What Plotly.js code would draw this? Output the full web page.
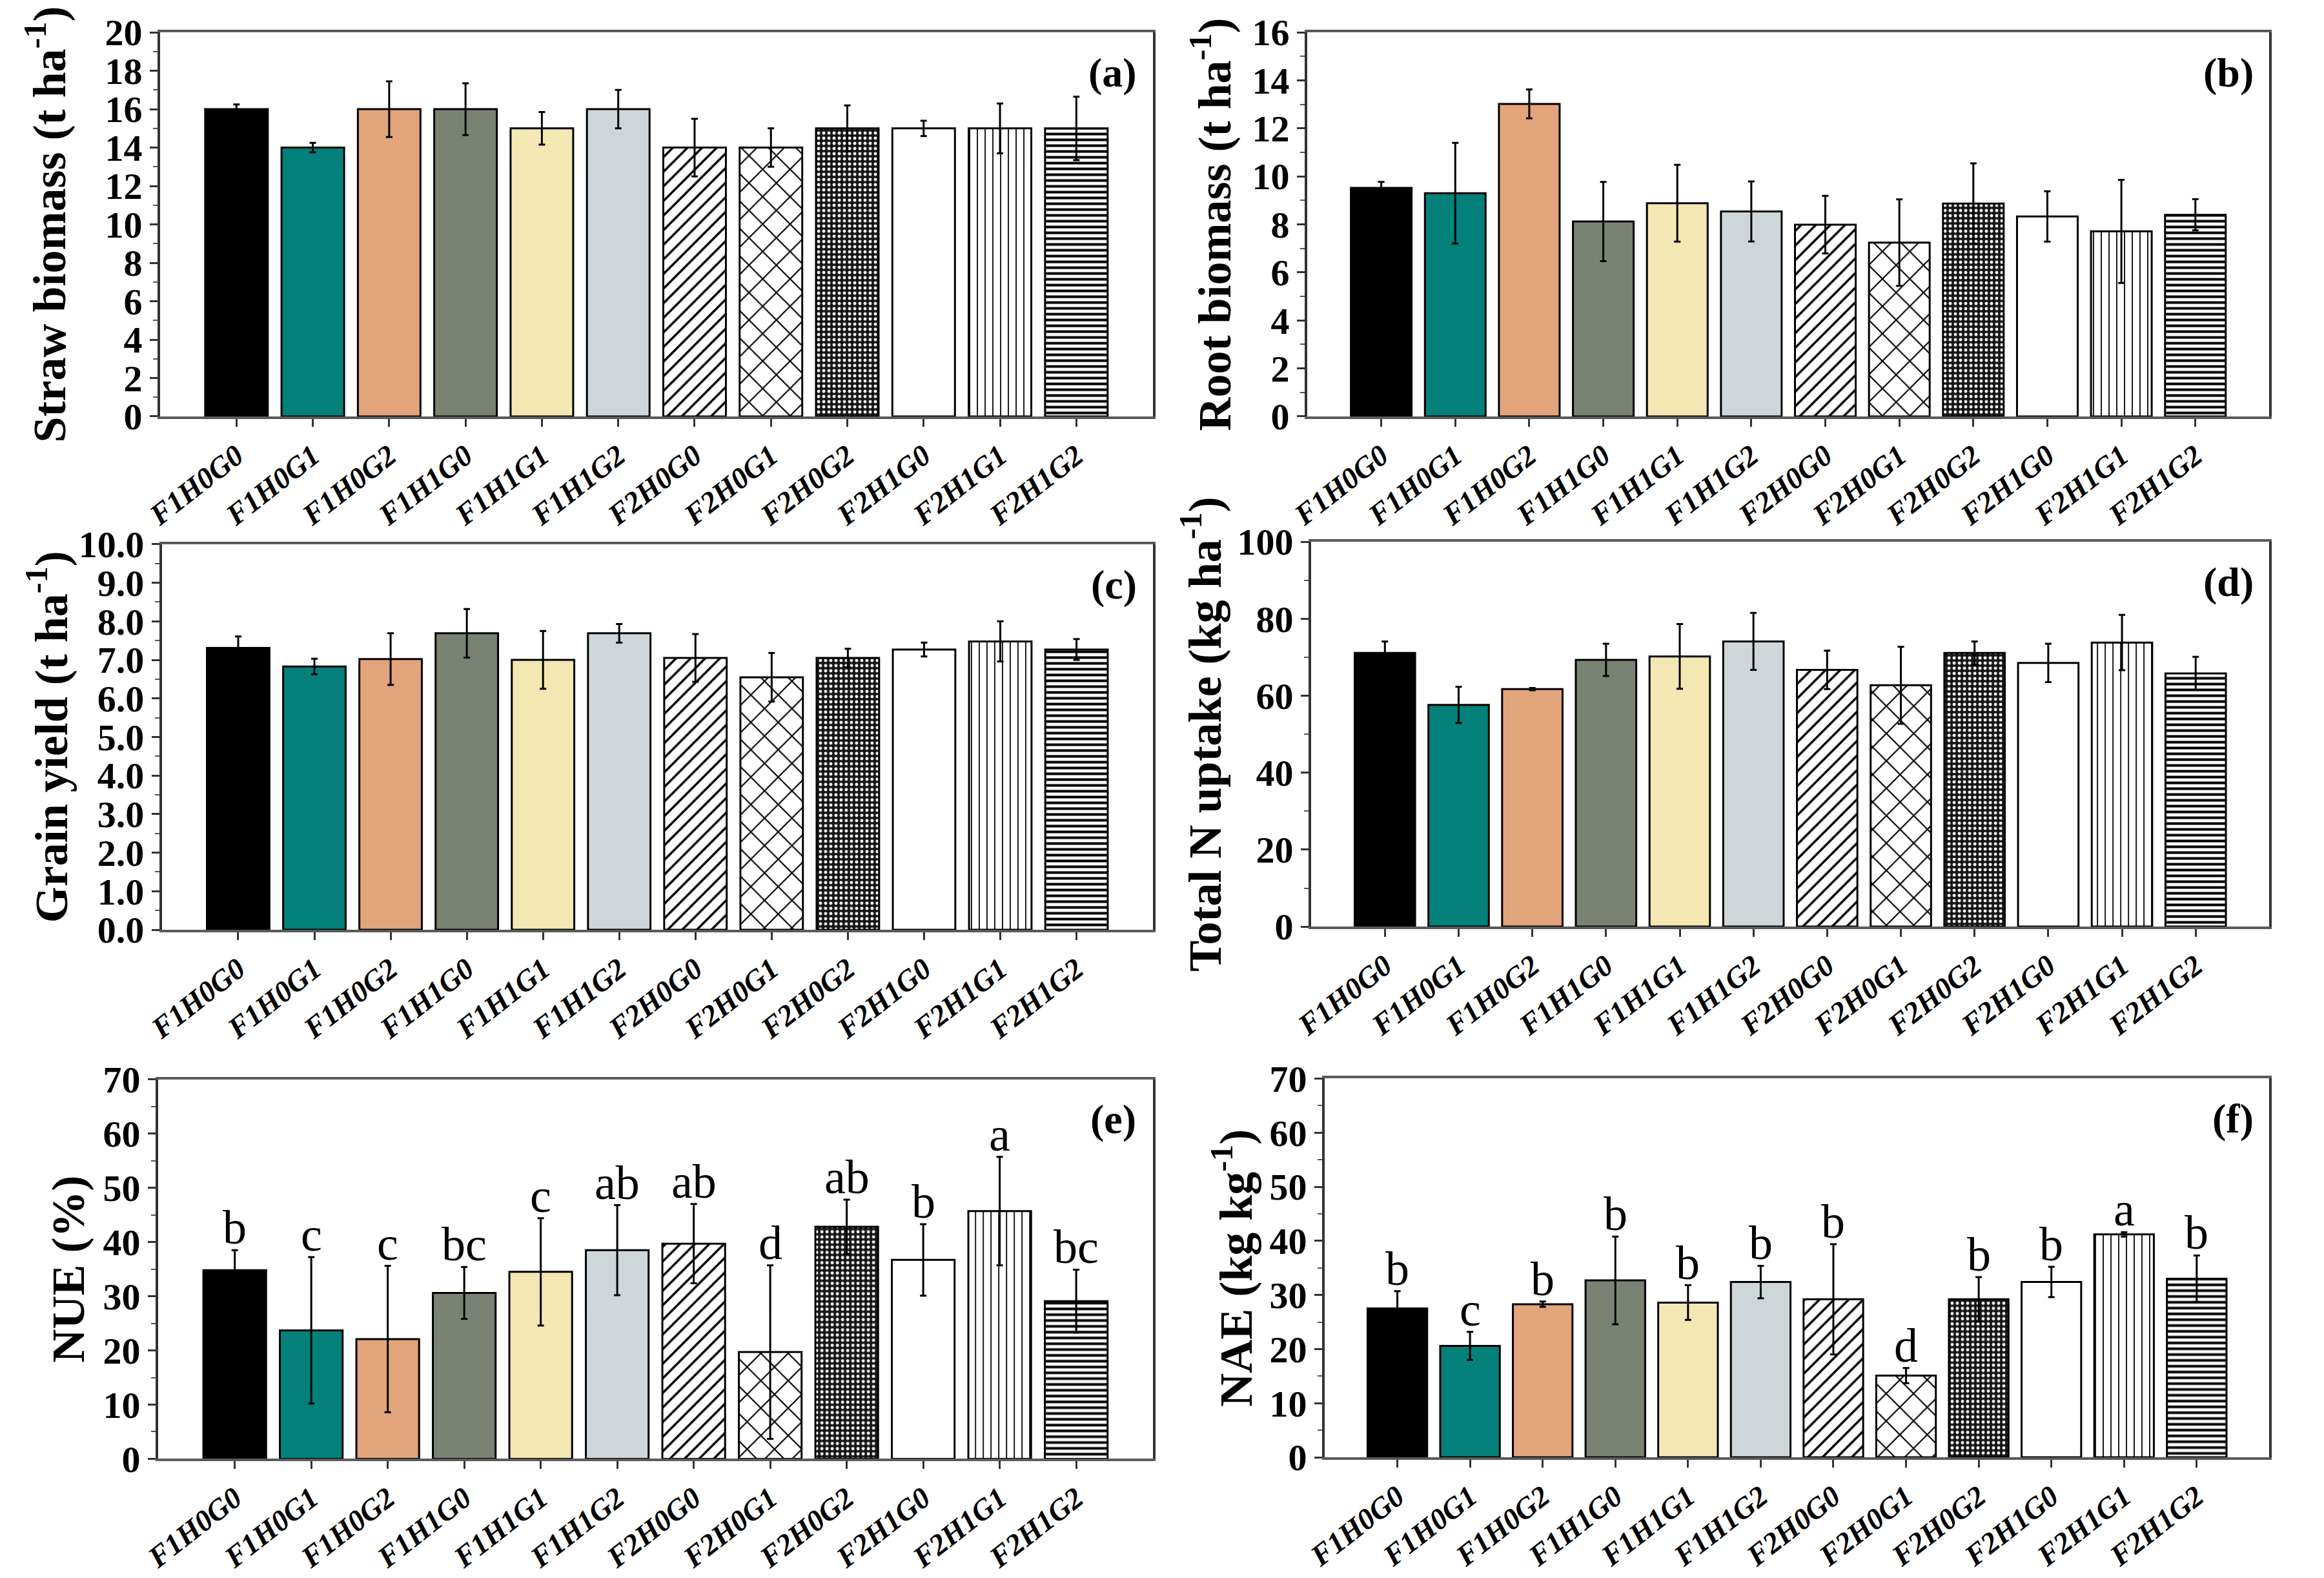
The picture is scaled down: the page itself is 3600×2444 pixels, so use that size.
<!DOCTYPE html>
<html>
<head>
<meta charset="utf-8">
<script src="https://cdn.plot.ly/plotly-3.0.1.min.js"></script>
<style>html,body{margin:0;padding:0;background:#fff;}#chart{width:3600px;height:2444px;}</style>
</head>
<body>
<div id="chart"></div>
<script>
// ---- data ----
const categories = ['F1H0G0','F1H0G1','F1H0G2','F1H1G0','F1H1G1','F1H1G2','F2H0G0','F2H0G1','F2H0G2','F2H1G0','F2H1G1','F2H1G2'];

const strawVals = [16.0, 14.0, 16.0, 16.0, 15.0, 16.0, 14.0, 14.0, 15.0, 15.0, 15.0, 15.0];
const strawErr  = [0.25, 0.25, 1.45, 1.35, 0.85, 1.0, 1.5, 1.0, 1.2, 0.4, 1.3, 1.65];

const rootVals = [9.52, 9.3, 13.02, 8.12, 8.88, 8.54, 7.99, 7.24, 8.87, 8.33, 7.71, 8.4];
const rootErr  = [0.25, 2.1, 0.6, 1.65, 1.6, 1.25, 1.2, 1.8, 1.67, 1.05, 2.15, 0.65];

const grainVals = [7.31, 6.83, 7.02, 7.69, 7.0, 7.69, 7.05, 6.55, 7.05, 7.27, 7.48, 7.27];
const grainErr  = [0.3, 0.2, 0.67, 0.63, 0.75, 0.24, 0.62, 0.63, 0.24, 0.18, 0.52, 0.27];

const nupVals = [71.1, 57.6, 61.7, 69.3, 70.2, 74.1, 66.7, 62.7, 71.1, 68.5, 73.8, 65.8];
const nupErr  = [3.0, 4.7, 0.3, 4.2, 8.4, 7.4, 5.0, 10.0, 3.0, 5.0, 7.2, 4.3];

const nueVals = [34.8, 23.7, 22.1, 30.6, 34.5, 38.5, 39.7, 19.7, 42.8, 36.7, 45.7, 29.1];
const nueErr  = [3.7, 13.5, 13.5, 4.8, 9.9, 8.3, 7.3, 16.0, 5.0, 6.6, 10.0, 5.8];
const nueLetters = ['b','c','c','bc','c','ab','ab','d','ab','b','a','bc'];

const naeVals = [27.5, 20.6, 28.3, 32.7, 28.6, 32.4, 29.2, 15.1, 29.2, 32.4, 41.2, 33.0];
const naeErr  = [3.2, 2.6, 0.5, 8.1, 3.2, 3.0, 10.2, 1.4, 4.1, 2.8, 0.4, 4.3];
const naeLetters = ['b','c','b','b','b','b','b','d','b','b','a','b'];

// ---- styles ----
const barColors  = ['#000000','#04807a','#e2a47a','#7a8274','#f3e7b4','#cfd6d9','#ffffff','#ffffff','#161616','#ffffff','#ffffff','#ffffff'];
const patShapes  = ['','','','','','','/','x','.','','|','-'];
const patFg      = ['#000000','#000000','#000000','#000000','#000000','#000000','#000000','#000000','#ffffff','#000000','#000000','#000000'];
const patSize    = [10,10,10,10,10,10,16,30,8,10,12,9];
const patSolid   = [0.3,0.3,0.3,0.3,0.3,0.3,0.22,0.14,0.3,0.3,0.15,0.45];

const FONT = 'Liberation Serif, Times New Roman, serif';

const panels = [
  {vals: strawVals, err: strawErr, max: 20, dtick: 2, minor: 1, fmt: '', title: 'Straw biomass (t ha<sup>-1</sup>)', tag: '(a)',
   xd: [0.0689, 0.4960], yd: [0.7361, 0.9795], standoff: 38, annTitle: false, letters: null},
  {vals: rootVals, err: rootErr, max: 16, dtick: 2, minor: 1, fmt: '', title: 'Root biomass (t ha<sup>-1</sup>)', tag: '(b)',
   xd: [0.5625, 0.9765], yd: [0.7361, 0.9795], standoff: 10, annTitle: false, letters: null},
  {vals: grainVals, err: grainErr, max: 10, dtick: 1, minor: 0.5, fmt: '.1f', title: 'Grain yield (t ha<sup>-1</sup>)', tag: '(c)',
   xd: [0.0697, 0.4960], yd: [0.4108, 0.6551], standoff: 0, annTitle: true, annX: 0.0205, letters: null},
  {vals: nupVals, err: nupErr, max: 100, dtick: 20, minor: 10, fmt: '', title: 'Total N uptake (kg ha<sup>-1</sup>)', tag: '(d)',
   xd: [0.5642, 0.9765], yd: [0.4128, 0.6567], standoff: 2, annTitle: false, letters: null},
  {vals: nueVals, err: nueErr, max: 70, dtick: 10, minor: 5, fmt: '', title: 'NUE (%)', tag: '(e)',
   xd: [0.0681, 0.4960], yd: [0.0755, 0.3160], standoff: 6, annTitle: false, letters: nueLetters},
  {vals: naeVals, err: naeErr, max: 70, dtick: 10, minor: 5, fmt: '', title: 'NAE (kg kg<sup>-1</sup>)', tag: '(f)',
   xd: [0.5700, 0.9765], yd: [0.0765, 0.3165], standoff: 4, annTitle: false, letters: naeLetters}
];

const data = [];
const layout = {
  width: 3600, height: 2444,
  margin: {l: 0, r: 0, t: 0, b: 0},
  paper_bgcolor: '#ffffff', plot_bgcolor: '#ffffff',
  showlegend: false,
  barmode: 'overlay',
  bargap: 0.18,
  font: {family: FONT, color: '#000'},
  annotations: []
};

const titleFont = {family: FONT, size: 72, color: '#000', weight: 'bold'};

panels.forEach((p, i) => {
  const n = i === 0 ? '' : String(i + 1);
  const xa = 'x' + n, ya = 'y' + n;
  categories.forEach((c, k) => {
    data.push({
      type: 'bar', x: [c], y: [p.vals[k]], xaxis: xa, yaxis: ya, name: c,
      marker: {
        color: barColors[k],
        line: {color: '#000000', width: 3},
        pattern: {shape: patShapes[k], fgcolor: patFg[k], bgcolor: barColors[k],
                  size: patSize[k], solidity: patSolid[k], fillmode: 'replace'}
      },
      error_y: {type: 'data', array: [p.err[k]], visible: true, color: '#000', thickness: 3, width: 5},
      hoverinfo: 'x+y'
    });
  });
  layout['xaxis' + n] = {
    domain: p.xd, anchor: ya, type: 'category', range: [-1, 12],
    categoryorder: 'array', categoryarray: categories,
    showline: true, linecolor: '#5a5a5a', linewidth: 4, mirror: true,
    ticks: 'outside', ticklen: 12, tickwidth: 3, tickcolor: '#333',
    tickangle: -38, showgrid: false, zeroline: false, automargin: false,
    tickfont: {family: FONT, size: 46, color: '#000', weight: 'bold', style: 'italic'}
  };
  const yaxis = {
    domain: p.yd, anchor: xa, range: [0, p.max], dtick: p.dtick, tick0: 0,
    tickformat: p.fmt,
    showline: true, linecolor: '#333', linewidth: 4, mirror: true,
    ticks: 'outside', ticklen: 12, tickwidth: 3, tickcolor: '#333',
    minor: {dtick: p.minor, ticks: 'outside', ticklen: 7, tickwidth: 2, tickcolor: '#555', showgrid: false},
    showgrid: false, zeroline: false, automargin: false,
    tickfont: {family: FONT, size: 58, color: '#000', weight: 'bold'}
  };
  if (!p.annTitle) {
    yaxis.title = {text: p.title, standoff: p.standoff, font: titleFont};
  } else {
    layout.annotations.push({
      xref: 'paper', yref: 'paper', x: p.annX, y: (p.yd[0] + p.yd[1]) / 2,
      xanchor: 'center', yanchor: 'middle', textangle: -90, showarrow: false,
      text: p.title, font: titleFont
    });
  }
  layout['yaxis' + n] = yaxis;
  layout.annotations.push({
    xref: xa + ' domain', yref: ya + ' domain', x: 0.985, y: 0.895,
    xanchor: 'right', yanchor: 'middle', showarrow: false, text: p.tag,
    font: {family: FONT, size: 64, color: '#000', weight: 'bold'}
  });
  if (p.letters) {
    p.letters.forEach((t, k) => {
      layout.annotations.push({
        xref: xa, yref: ya, x: categories[k], y: p.vals[k] + p.err[k],
        xanchor: 'center', yanchor: 'bottom', yshift: -8, showarrow: false, text: t,
        font: {family: FONT, size: 74, color: '#000'}
      });
    });
  }
});

Plotly.newPlot('chart', data, layout, {staticPlot: true, displayModeBar: false});
</script>
</body>
</html>
